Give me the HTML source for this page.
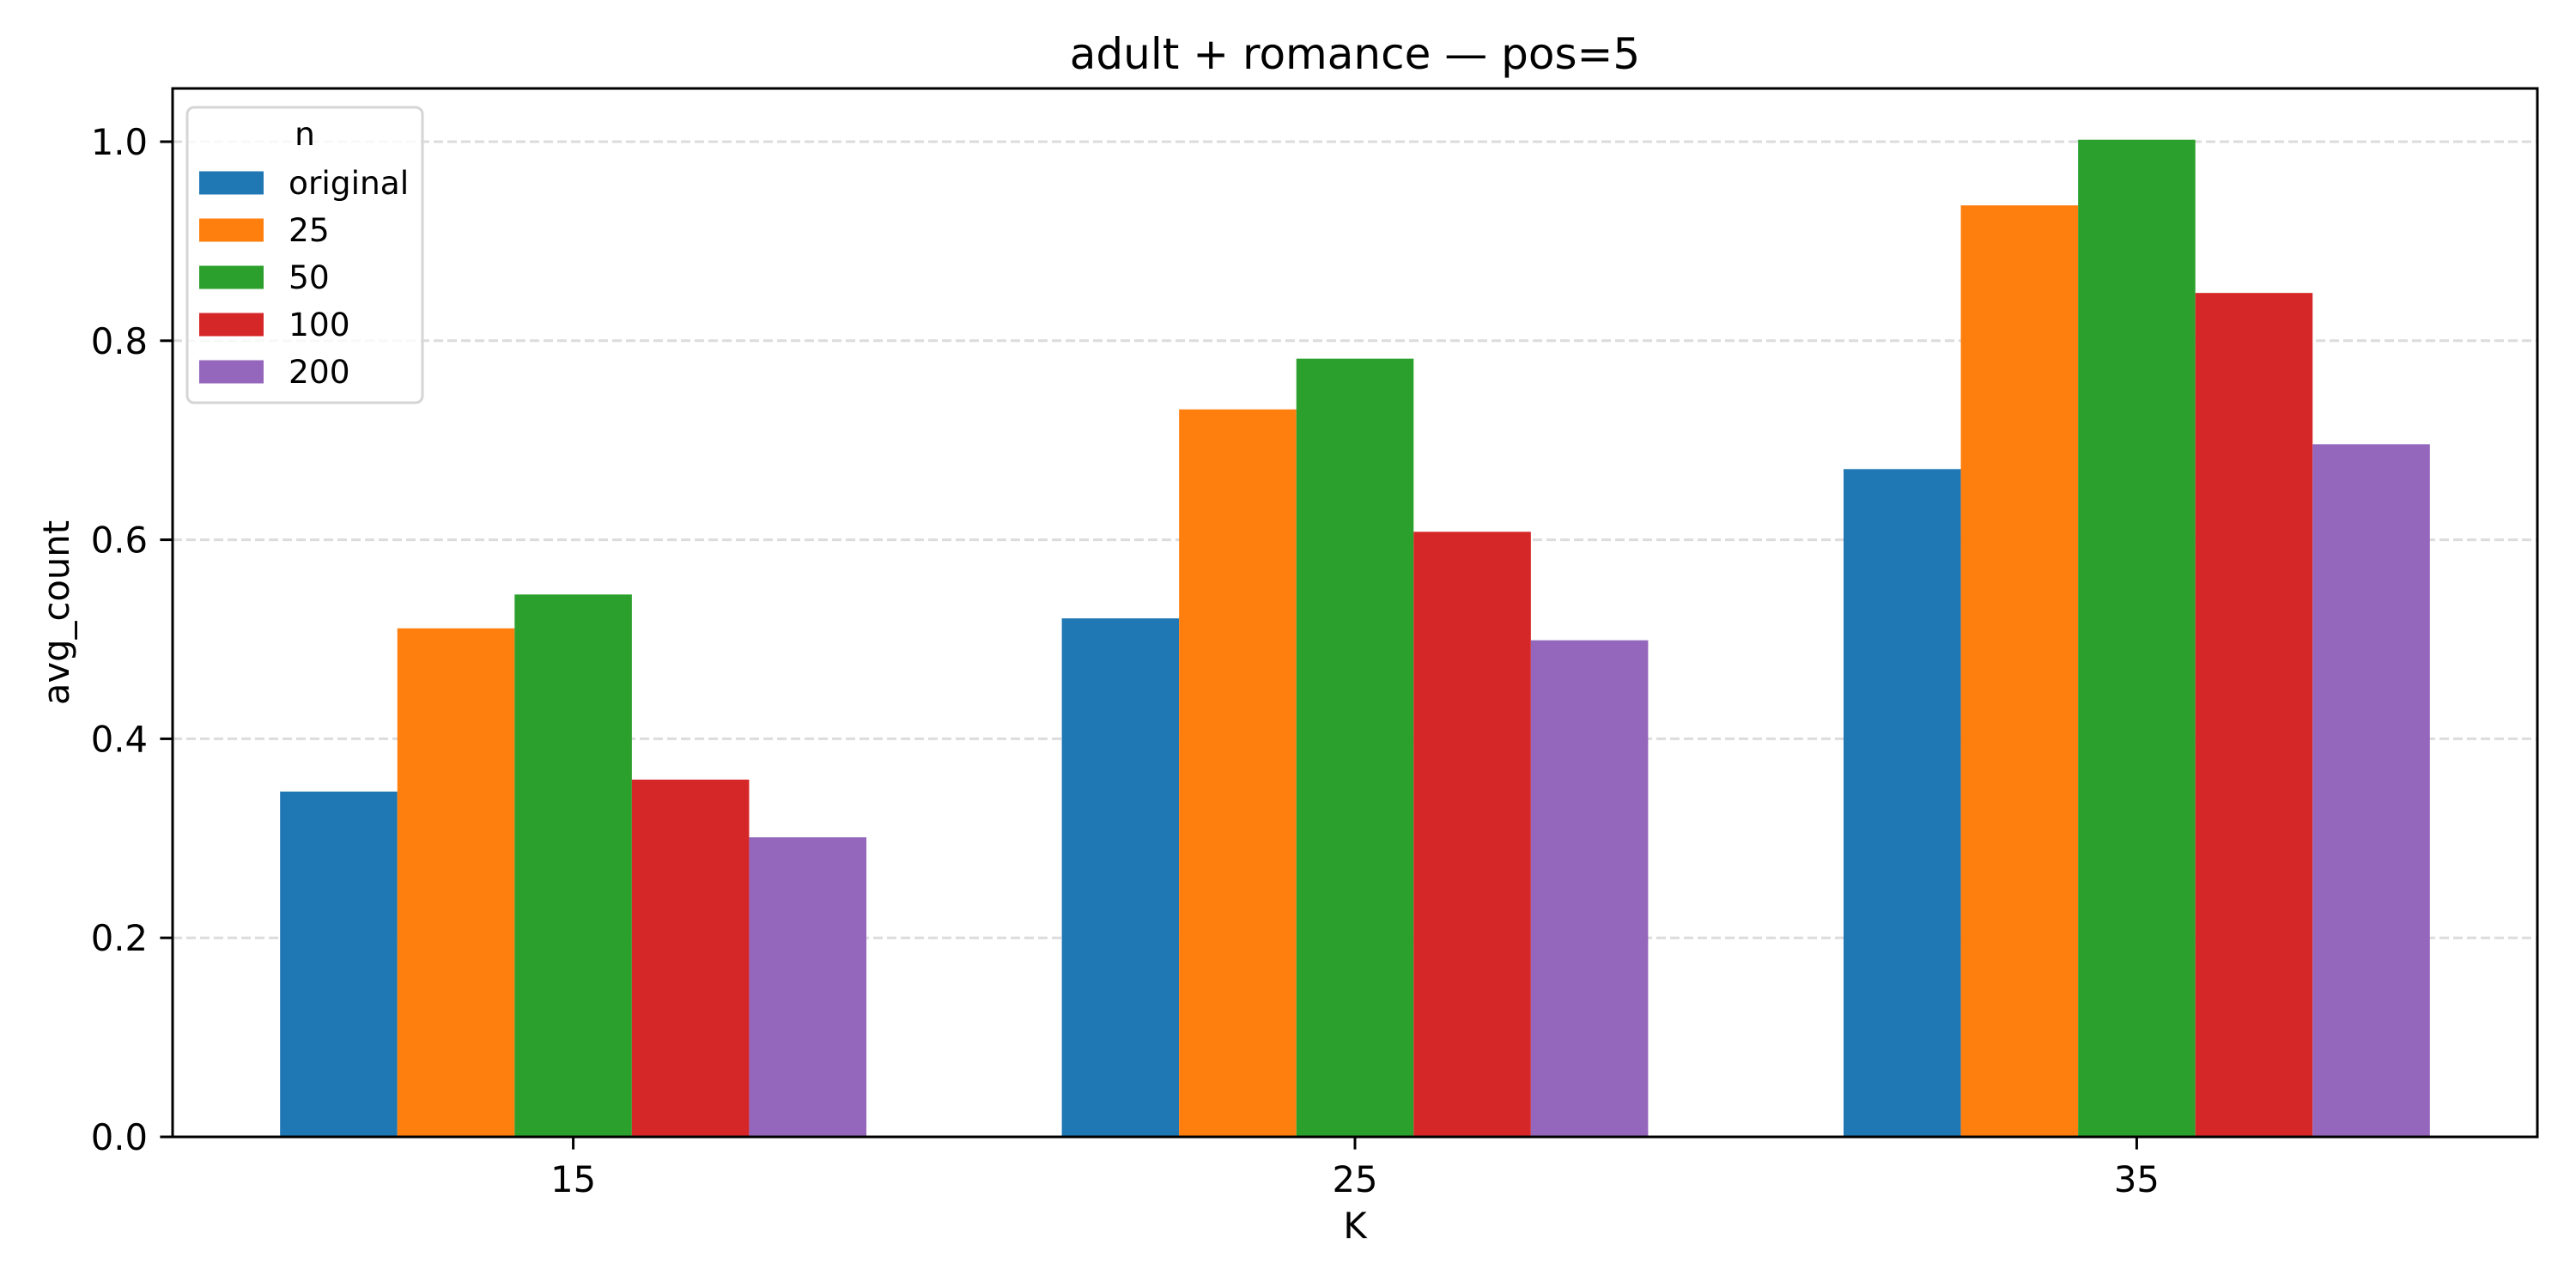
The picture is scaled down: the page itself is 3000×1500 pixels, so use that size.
<!DOCTYPE html>
<html><head><meta charset="utf-8"><style>html,body{margin:0;padding:0;background:#fff}svg{display:block}</style></head>
<body>
<svg id="chart" width="3000" height="1500" xmlns="http://www.w3.org/2000/svg" font-family="'DejaVu Sans','Liberation Sans',sans-serif">
<rect width="3000" height="1500" fill="#fff"/>
<g id="grid"></g><g id="bars"></g><g id="axes"></g><g id="legend"></g>
</svg>
<script>
const categories = ["15","25","35"];
const seriesNames = ["original","25","50","100","200"];
const sOriginal = [0.347,0.521,0.671];
const s25 = [0.511,0.731,0.936];
const s50 = [0.545,0.782,1.002];
const s100 = [0.359,0.608,0.848];
const s200 = [0.301,0.499,0.696];
const yTicks = [0,0.2,0.4,0.6,0.8,1.0];
const yTickLabels = ["0.0","0.2","0.4","0.6","0.8","1.0"];
const series = [sOriginal,s25,s50,s100,s200];
const colors = ["#1f77b4","#ff7f0e","#2ca02c","#d62728","#9467bd"];
const NS="http://www.w3.org/2000/svg";
const L=201,R=2955,T=103,B=1324;
const xMin=-0.5125,xMax=2.5125,yMax=1.0535;
const xs=v=>L+(v-xMin)/(xMax-xMin)*(R-L);
const ys=v=>B-v/yMax*(B-T);
function mk(tag,attrs,parent,text){const e=document.createElementNS(NS,tag);for(const k in attrs)e.setAttribute(k,attrs[k]);if(text!==undefined)e.textContent=text;parent.appendChild(e);return e;}
const grid=document.getElementById('grid'),bars=document.getElementById('bars'),axes=document.getElementById('axes'),leg=document.getElementById('legend');
yTicks.forEach((t,i)=>{
  const g=mk('line',{x1:L,x2:R,y1:ys(t),y2:ys(t),stroke:'#dcdcdc','stroke-width':3,'stroke-dasharray':'11 5'},grid);
  
  
  const tk=mk('line',{x1:L-14.6,x2:L,y1:ys(t),y2:ys(t),stroke:'#000','stroke-width':3},axes);
  
  
  const tl=mk('text',{x:L-29,y:ys(t)+15,'text-anchor':'end','font-size':41.7},axes,yTickLabels[i]);
  
  
});
const bw=0.15;
series.forEach((s,j)=>{
  s.forEach((v,i)=>{
    const c=i+(j-2)*bw;
    const r=mk('rect',{x:xs(c-bw/2),y:ys(v),width:xs(c+bw/2)-xs(c-bw/2),height:ys(0)-ys(v),fill:colors[j]},bars);
    
    
  });
});
categories.forEach((c,i)=>{
  const tk=mk('line',{x1:xs(i),x2:xs(i),y1:B,y2:B+14.6,stroke:'#000','stroke-width':3},axes);
  
  
  const tl=mk('text',{x:xs(i),y:B+64,'text-anchor':'middle','font-size':41.7},axes,c);
  
  
});
const fr=mk('rect',{x:L,y:T,width:R-L,height:B-T,fill:'none',stroke:'#000','stroke-width':3},axes);


const ti=mk('text',{x:(L+R)/2,y:80,'text-anchor':'middle','font-size':50},axes,'adult + romance — pos=5');


const xl=mk('text',{x:(L+R)/2,y:1442,'text-anchor':'middle','font-size':41.7},axes,'K');


const yl=mk('text',{x:0,y:0,'text-anchor':'middle','font-size':41.7,transform:'translate(80,'+((T+B)/2)+') rotate(-90)'},axes,'avg_count');


const lb=mk('rect',{x:218,y:125,width:274,height:344,rx:8,fill:'#fff','fill-opacity':0.8,stroke:'#d5d5d5','stroke-width':3},leg);


const lt=mk('text',{x:355,y:169,'text-anchor':'middle','font-size':37.5},leg,'n');


seriesNames.forEach((n,j)=>{
  const cy=213+j*55;
  const p=mk('rect',{x:232,y:cy-13.5,width:75,height:27,fill:colors[j]},leg);
  
  
  const t=mk('text',{x:336,y:cy+13,'font-size':37.5},leg,n);
  
  
});
</script>
</body></html>
